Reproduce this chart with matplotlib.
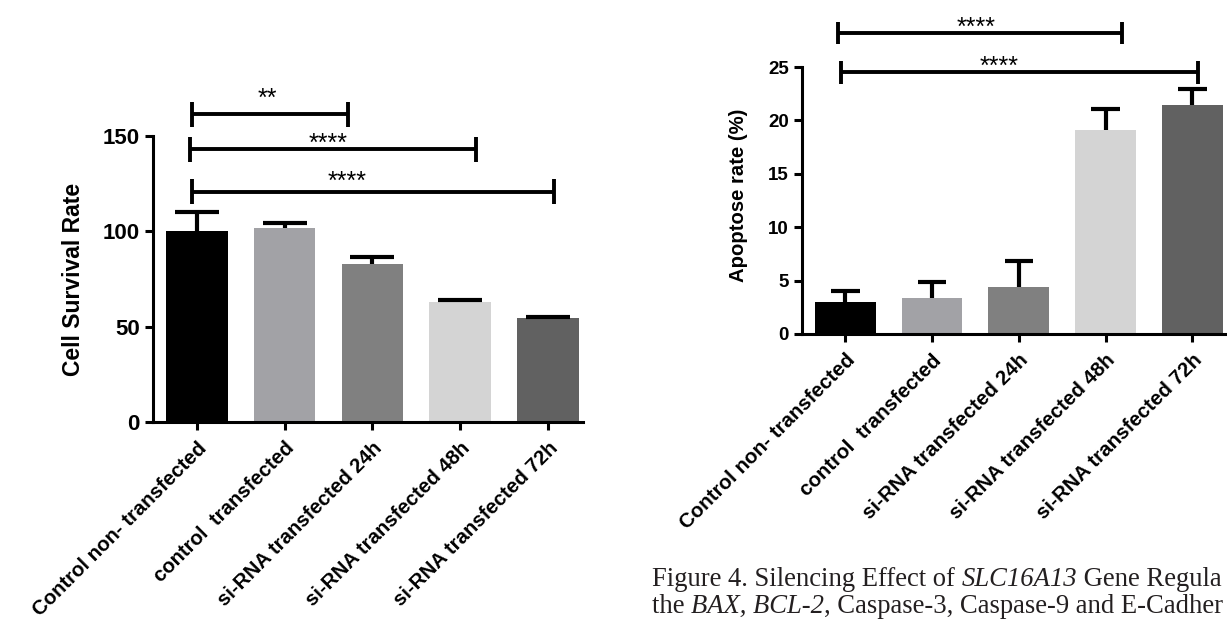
import matplotlib
matplotlib.use("Agg")
import matplotlib.pyplot as plt
import matplotlib.transforms as mtransforms
import numpy as np

# ---- data ----
categories = ["Control non- transfected", "control  transfected",
              "si-RNA transfected 24h", "si-RNA transfected 48h",
              "si-RNA transfected 72h"]
survival = [100.0, 102.0, 83.0, 63.0, 54.5]
survival_err = [10.0, 2.5, 3.3, 1.2, 0.7]
apoptosis = [3.0, 3.4, 4.4, 19.1, 21.4]
apoptosis_err = [1.0, 1.5, 2.45, 1.95, 1.5]
bar_colors = ["#000000", "#a2a2a6", "#808080", "#d4d4d4", "#616161"]

survival_ticks = [0, 50, 100, 150]
apoptosis_ticks = [0, 5, 10, 15, 20, 25]

# significance brackets: (x_start, x_end, y, label, label_x, label_y)
survival_sig = [(-0.06, 1.72, 161.3, "**", 0.80, 173.2),
                (-0.08, 3.18, 143.0, "****", 1.49, 149.6),
                (-0.06, 4.07, 120.8, "****", 1.71, 130.0)]
apoptosis_sig = [(-0.08, 3.19, 28.2, "****", 1.51, 29.4),
                 (-0.05, 4.07, 24.5, "****", 1.77, 25.7)]

# caption as visible in the (cropped) reference
caption_lines = [
    [("Figure 4. Silencing Effect of ", "normal"), ("SLC16A13", "italic"),
     (" Gene Regula", "normal")],
    [("the ", "normal"), ("BAX, BCL-2", "italic"),
     (", Caspase-3, Caspase-9 and E-Cadher", "normal")],
]

plt.rcParams['font.family'] = ['Liberation Sans', 'DejaVu Sans']

W, H = 1227, 621
fig = plt.figure(figsize=(W / 100, H / 100), dpi=100)


def px_axes(l, r, t, b):
    return fig.add_axes([l / W, (H - b) / H, (r - l) / W, (b - t) / H])


STAR_FS = 18


def draw_panel(ax, vals, errs, ticks, ylabel, sig, capw, tick_fs, lab_fs,
               ylab_fs, tickh, ylabel_xy, lab_dx):
    x = np.arange(len(vals))
    ax.bar(x, vals, width=0.70, color=bar_colors, edgecolor='none', zorder=2)
    tops = np.array(vals) + np.array(errs)
    ax.vlines(x, vals, tops, color='black', lw=3.0, zorder=3)
    ax.hlines(tops, x - capw, x + capw, color='black', lw=3.0, zorder=3)
    ax.set_xlim(-0.5, 4.4)
    ax.set_ylim(ticks[0], ticks[-1])
    ax.set_yticks(ticks)
    ax.set_yticklabels([str(t) for t in ticks], fontsize=tick_fs,
                       fontweight='bold')
    ax.set_xticks(x)
    ax.set_xticklabels(categories, rotation=45, ha='right',
                       rotation_mode='anchor', fontsize=lab_fs,
                       fontweight='bold')
    off = mtransforms.ScaledTranslation(lab_dx / 100, 0, fig.dpi_scale_trans)
    for lab in ax.get_xticklabels():
        lab.set_transform(lab.get_transform() + off)
    for s in ['top', 'right']:
        ax.spines[s].set_visible(False)
    for s in ['left', 'bottom']:
        ax.spines[s].set_linewidth(2.2)
    ax.tick_params(axis='both', width=2.2, length=6, direction='out')
    ax.tick_params(axis='x', pad=6)
    ax.set_ylabel(ylabel, fontsize=ylab_fs, fontweight='bold')
    ax.yaxis.set_label_coords(*ylabel_xy)
    for x0, x1, y, lab, lx, ly in sig:
        ax.plot([x0, x1], [y, y], color='black', lw=2.8, clip_on=False,
                solid_capstyle='butt')
        for xx in (x0, x1):
            ax.plot([xx, xx], [y - tickh, y + tickh], color='black', lw=2.8,
                    clip_on=False, solid_capstyle='butt')
        ax.annotate(lab, xy=(lx, ly), xytext=(0, -0.58 * STAR_FS),
                    textcoords='offset points', ha='center', va='baseline',
                    fontsize=STAR_FS, annotation_clip=False)


ax1 = px_axes(153, 583, 136, 422)
draw_panel(ax1, survival, survival_err, survival_ticks, "Cell Survival Rate",
           survival_sig, 0.25, 16, 14.7, 16.5, 6.5,
           ((85 - 153) / 430, 0.5), -5)

ax2 = px_axes(802, 1227, 67, 334)
draw_panel(ax2, apoptosis, apoptosis_err, apoptosis_ticks,
           "Apoptose rate (%)", apoptosis_sig, 0.165, 13.5, 14.8, 14.6, 1.05,
           ((748 - 802) / 425, 0.518), -6)

# caption with italic segments
cap_fs = 19.2
renderer = fig.canvas.get_renderer()


def seg_width(txt, style):
    t = fig.text(0, 0, "x" + txt + "x", family='Liberation Serif',
                 fontsize=cap_fs, style=style)
    t2 = fig.text(0, 0, "xx", family='Liberation Serif', fontsize=cap_fs,
                  style=style)
    w = t.get_window_extent(renderer).width - t2.get_window_extent(renderer).width
    t.remove()
    t2.remove()
    return w


for line, base_y in zip(caption_lines, [586, 613]):
    xpx = 652.0
    for txt, style in line:
        fig.text(xpx / W, (H - base_y) / H, txt, family='Liberation Serif',
                 fontsize=cap_fs, style=style, va='baseline', ha='left',
                 color='#231f20')
        xpx += seg_width(txt, style)

fig.savefig("out.png", dpi=100)
